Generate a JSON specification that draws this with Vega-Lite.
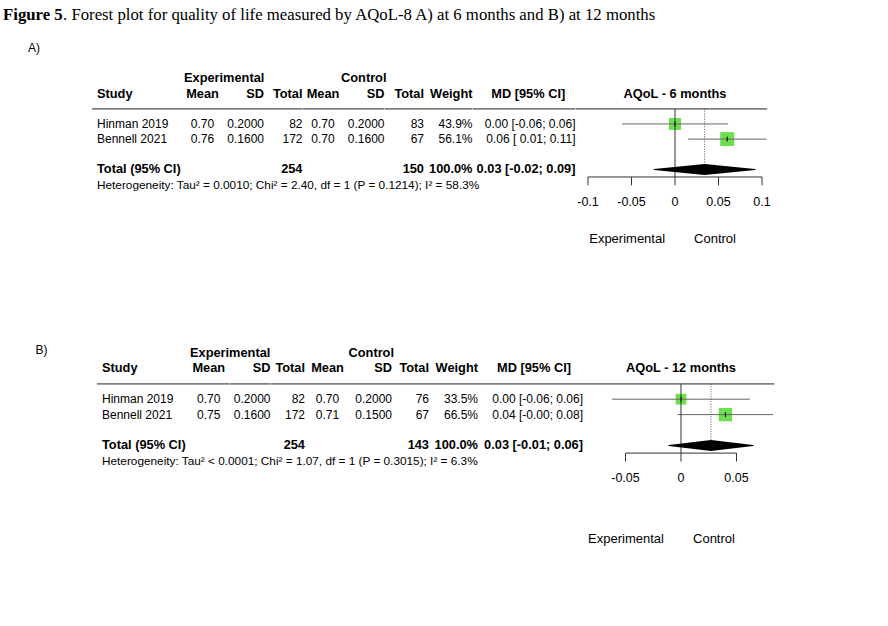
{
"$schema": "https://vega.github.io/schema/vega-lite/v6.json",
"padding": 0,
"spacing": 0,
"resolve": {"scale": {"size": "independent"}},
"config": {
  "view": {"stroke": null},
  "axis": {"disable": true},
  "legend": {"disable": true},
  "text": {"font": "Liberation Sans", "fontSize": 12, "color": "black"},
  "concat": {"spacing": 0}
},
"datasets": {
  "one": [{}],
  "A": [
    {"line": 3, "study": "Hinman 2019", "eMean": 0.70, "eSD": 0.2, "eN": 82, "cMean": 0.70, "cSD": 0.2, "cN": 83, "w": 0.439, "ci": "0.00 [-0.06; 0.06]", "md": 0.0, "lo": -0.061, "hi": 0.061},
    {"line": 4, "study": "Bennell 2021", "eMean": 0.76, "eSD": 0.16, "eN": 172, "cMean": 0.70, "cSD": 0.16, "cN": 67, "w": 0.561, "ci": "0.06 [ 0.01; 0.11]", "md": 0.06, "lo": 0.015, "hi": 0.105},
    {"line": 6, "study": "Total (95% CI)", "eN": 254, "cN": 150, "w": 1.0, "ci": "0.03 [-0.02; 0.09]", "md": 0.034, "lo": -0.024, "hi": 0.092, "het": "Heterogeneity: Tau² = 0.0010; Chi² = 2.40, df = 1 (P = 0.1214); I² = 58.3%"}
  ],
  "B": [
    {"line": 3, "study": "Hinman 2019", "eMean": 0.70, "eSD": 0.2, "eN": 82, "cMean": 0.70, "cSD": 0.2, "cN": 76, "w": 0.335, "ci": "0.00 [-0.06; 0.06]", "md": 0.0, "lo": -0.062, "hi": 0.062},
    {"line": 4, "study": "Bennell 2021", "eMean": 0.75, "eSD": 0.16, "eN": 172, "cMean": 0.71, "cSD": 0.15, "cN": 67, "w": 0.665, "ci": "0.04 [-0.00; 0.08]", "md": 0.04, "lo": -0.003, "hi": 0.083},
    {"line": 6, "study": "Total (95% CI)", "eN": 254, "cN": 143, "w": 1.0, "ci": "0.03 [-0.01; 0.06]", "md": 0.027, "lo": -0.011, "hi": 0.065, "het": "Heterogeneity: Tau² < 0.0001; Chi² = 1.07, df = 1 (P = 0.3015); I² = 6.3%"}
  ],
  "ticksA": [
    {"t": -0.1, "lab": "-0.1"}, {"t": -0.05, "lab": "-0.05"}, {"t": 0, "lab": "0"}, {"t": 0.05, "lab": "0.05"}, {"t": 0.1, "lab": "0.1"}
  ],
  "ticksB": [
    {"t": -0.05, "lab": "-0.05"}, {"t": 0, "lab": "0"}, {"t": 0.05, "lab": "0.05"}
  ]
},
"vconcat": [
  {
    "width": 888, "height": 30,
    "layer": [
      {"data": {"name": "one"}, "mark": {"type": "text", "text": "Figure 5", "font": "Liberation Serif", "fontSize": 16.75, "fontWeight": "bold", "align": "left", "dx": 3}, "encoding": {"x": {"value": 0}}},
      {"data": {"name": "one"}, "mark": {"type": "text", "text": ". Forest plot for quality of life measured by AQoL-8 A) at 6 months and B) at 12 months", "font": "Liberation Serif", "fontSize": 16.75, "align": "left", "dx": 63}, "encoding": {"x": {"value": 0}}}
    ]
  },
  {
    "spacing": 0, "bounds": "flush",
    "hconcat": [
      {"width": 68, "height": 271, "data": {"name": "one"}, "mark": {"type": "text", "text": "A)"}, "encoding": {"y": {"datum": -2, "scale": {"domain": [-3.2013, 14.6865], "reverse": true, "nice": false, "zero": false}}}},
      {"width": 24, "height": 271, "data": {"values": []}, "mark": {"type": "text"}},
      {"width": 90, "height": 271,
       "layer": [
         {"data": {"name": "one"}, "mark": {"type": "rule", "color": "#808080", "strokeWidth": 1.8}, "encoding": {"y": {"datum": 2, "scale": {"domain": [-3.2013, 14.6865], "reverse": true, "nice": false, "zero": false}}}},
         {"data": {"name": "one"}, "mark": {"type": "text", "text": "Study", "fontWeight": "bold", "fontSize": 12.8, "align": "left", "dx": 5}, "encoding": {"x": {"value": 0}, "y": {"datum": 1}}},
         {"data": {"name": "A"}, "transform": [{"filter": "datum.line < 5"}], "mark": {"type": "text", "align": "left", "dx": 5}, "encoding": {"x": {"value": 0}, "y": {"field": "line", "type": "quantitative"}, "text": {"field": "study"}}},
         {"data": {"name": "A"}, "transform": [{"filter": "datum.line == 6"}], "mark": {"type": "text", "align": "left", "dx": 5, "fontWeight": "bold", "fontSize": 12.8}, "encoding": {"x": {"value": 0}, "y": {"field": "line", "type": "quantitative"}, "text": {"field": "study"}}},
         {"data": {"name": "A"}, "transform": [{"filter": "datum.line == 6"}], "mark": {"type": "text", "align": "left", "dx": 5, "fontSize": 11.8}, "encoding": {"x": {"value": 0}, "y": {"datum": 7}, "text": {"field": "het"}}}
       ]},
      {"width": 41, "height": 271,
       "layer": [
         {"data": {"name": "one"}, "mark": {"type": "rule", "color": "#808080", "strokeWidth": 1.8}, "encoding": {"y": {"datum": 2, "scale": {"domain": [-3.2013, 14.6865], "reverse": true, "nice": false, "zero": false}}}},
         {"data": {"name": "one"}, "mark": {"type": "text", "text": "Experimental", "fontWeight": "bold", "fontSize": 12.8, "align": "left", "dx": 2}, "encoding": {"x": {"value": 0}, "y": {"datum": 0}}},
         {"data": {"name": "one"}, "mark": {"type": "text", "text": "Mean", "fontWeight": "bold", "fontSize": 12.8}, "encoding": {"y": {"datum": 1}}},
         {"data": {"name": "A"}, "transform": [{"filter": "datum.line < 5"}], "mark": {"type": "text"}, "encoding": {"y": {"field": "line", "type": "quantitative"}, "text": {"field": "eMean", "type": "quantitative", "format": ".2f"}}}
       ]},
      {"width": 41, "height": 271,
       "layer": [
         {"data": {"name": "one"}, "mark": {"type": "rule", "color": "#808080", "strokeWidth": 1.8}, "encoding": {"y": {"datum": 2, "scale": {"domain": [-3.2013, 14.6865], "reverse": true, "nice": false, "zero": false}}}},
         {"data": {"name": "one"}, "mark": {"type": "text", "text": "SD", "fontWeight": "bold", "fontSize": 12.8, "align": "right"}, "encoding": {"x": {"value": "width"}, "y": {"datum": 1}}},
         {"data": {"name": "A"}, "transform": [{"filter": "datum.line < 5"}], "mark": {"type": "text", "align": "right"}, "encoding": {"x": {"value": "width"}, "y": {"field": "line", "type": "quantitative"}, "text": {"field": "eSD", "type": "quantitative", "format": ".4f"}}}
       ]},
      {"width": 38.5, "height": 271,
       "layer": [
         {"data": {"name": "one"}, "mark": {"type": "rule", "color": "#808080", "strokeWidth": 1.8}, "encoding": {"y": {"datum": 2, "scale": {"domain": [-3.2013, 14.6865], "reverse": true, "nice": false, "zero": false}}}},
         {"data": {"name": "one"}, "mark": {"type": "text", "text": "Total", "fontWeight": "bold", "fontSize": 12.8, "align": "right"}, "encoding": {"x": {"value": "width"}, "y": {"datum": 1}}},
         {"data": {"name": "A"}, "transform": [{"filter": "datum.line < 5"}], "mark": {"type": "text", "align": "right"}, "encoding": {"x": {"value": "width"}, "y": {"field": "line", "type": "quantitative"}, "text": {"field": "eN", "type": "quantitative", "format": "d"}}},
         {"data": {"name": "A"}, "transform": [{"filter": "datum.line == 6"}], "mark": {"type": "text", "align": "right", "fontWeight": "bold", "fontSize": 12.8}, "encoding": {"x": {"value": "width"}, "y": {"field": "line", "type": "quantitative"}, "text": {"field": "eN", "type": "quantitative", "format": "d"}}}
       ]},
      {"width": 40, "height": 271,
       "layer": [
         {"data": {"name": "one"}, "mark": {"type": "rule", "color": "#808080", "strokeWidth": 1.8}, "encoding": {"y": {"datum": 2, "scale": {"domain": [-3.2013, 14.6865], "reverse": true, "nice": false, "zero": false}}}},
         {"data": {"name": "one"}, "mark": {"type": "text", "text": "Mean", "fontWeight": "bold", "fontSize": 12.8}, "encoding": {"y": {"datum": 1}}},
         {"data": {"name": "A"}, "transform": [{"filter": "datum.line < 5"}], "mark": {"type": "text"}, "encoding": {"y": {"field": "line", "type": "quantitative"}, "text": {"field": "cMean", "type": "quantitative", "format": ".2f"}}}
       ]},
      {"width": 41.5, "height": 271,
       "layer": [
         {"data": {"name": "one"}, "mark": {"type": "rule", "color": "#808080", "strokeWidth": 1.8}, "encoding": {"y": {"datum": 2, "scale": {"domain": [-3.2013, 14.6865], "reverse": true, "nice": false, "zero": false}}}},
         {"data": {"name": "one"}, "mark": {"type": "text", "text": "Control", "fontWeight": "bold", "fontSize": 12.8, "align": "right", "dx": 2}, "encoding": {"x": {"value": "width"}, "y": {"datum": 0}}},
         {"data": {"name": "one"}, "mark": {"type": "text", "text": "SD", "fontWeight": "bold", "fontSize": 12.8, "align": "right"}, "encoding": {"x": {"value": "width"}, "y": {"datum": 1}}},
         {"data": {"name": "A"}, "transform": [{"filter": "datum.line < 5"}], "mark": {"type": "text", "align": "right"}, "encoding": {"x": {"value": "width"}, "y": {"field": "line", "type": "quantitative"}, "text": {"field": "cSD", "type": "quantitative", "format": ".4f"}}}
       ]},
      {"width": 39, "height": 271,
       "layer": [
         {"data": {"name": "one"}, "mark": {"type": "rule", "color": "#808080", "strokeWidth": 1.8}, "encoding": {"y": {"datum": 2, "scale": {"domain": [-3.2013, 14.6865], "reverse": true, "nice": false, "zero": false}}}},
         {"data": {"name": "one"}, "mark": {"type": "text", "text": "Total", "fontWeight": "bold", "fontSize": 12.8, "align": "right"}, "encoding": {"x": {"value": "width"}, "y": {"datum": 1}}},
         {"data": {"name": "A"}, "transform": [{"filter": "datum.line < 5"}], "mark": {"type": "text", "align": "right"}, "encoding": {"x": {"value": "width"}, "y": {"field": "line", "type": "quantitative"}, "text": {"field": "cN", "type": "quantitative", "format": "d"}}},
         {"data": {"name": "A"}, "transform": [{"filter": "datum.line == 6"}], "mark": {"type": "text", "align": "right", "fontWeight": "bold", "fontSize": 12.8}, "encoding": {"x": {"value": "width"}, "y": {"field": "line", "type": "quantitative"}, "text": {"field": "cN", "type": "quantitative", "format": "d"}}}
       ]},
      {"width": 48.5, "height": 271,
       "layer": [
         {"data": {"name": "one"}, "mark": {"type": "rule", "color": "#808080", "strokeWidth": 1.8}, "encoding": {"y": {"datum": 2, "scale": {"domain": [-3.2013, 14.6865], "reverse": true, "nice": false, "zero": false}}}},
         {"data": {"name": "one"}, "mark": {"type": "text", "text": "Weight", "fontWeight": "bold", "fontSize": 12.8, "align": "right"}, "encoding": {"x": {"value": "width"}, "y": {"datum": 1}}},
         {"data": {"name": "A"}, "transform": [{"filter": "datum.line < 5"}], "mark": {"type": "text", "align": "right"}, "encoding": {"x": {"value": "width"}, "y": {"field": "line", "type": "quantitative"}, "text": {"field": "w", "type": "quantitative", "format": ".1%"}}},
         {"data": {"name": "A"}, "transform": [{"filter": "datum.line == 6"}], "mark": {"type": "text", "align": "right", "fontWeight": "bold", "fontSize": 12.8}, "encoding": {"x": {"value": "width"}, "y": {"field": "line", "type": "quantitative"}, "text": {"field": "w", "type": "quantitative", "format": ".1%"}}}
       ]},
      {"width": 102.5, "height": 271,
       "layer": [
         {"data": {"name": "one"}, "mark": {"type": "rule", "color": "#808080", "strokeWidth": 1.8}, "encoding": {"y": {"datum": 2, "scale": {"domain": [-3.2013, 14.6865], "reverse": true, "nice": false, "zero": false}}}},
         {"data": {"name": "one"}, "mark": {"type": "text", "text": "MD [95% CI]", "fontWeight": "bold", "fontSize": 12.8, "dx": 4}, "encoding": {"y": {"datum": 1}}},
         {"data": {"name": "A"}, "transform": [{"filter": "datum.line < 5"}], "mark": {"type": "text", "align": "right"}, "encoding": {"x": {"value": "width"}, "y": {"field": "line", "type": "quantitative"}, "text": {"field": "ci"}}},
         {"data": {"name": "A"}, "transform": [{"filter": "datum.line == 6"}], "mark": {"type": "text", "align": "right", "fontWeight": "bold", "fontSize": 12.8}, "encoding": {"x": {"value": "width"}, "y": {"field": "line", "type": "quantitative"}, "text": {"field": "ci"}}}
       ]},
      {"width": 314, "height": 271,
       "layer": [
         {"data": {"name": "one"}, "mark": {"type": "rule", "color": "#808080", "strokeWidth": 1.8}, "encoding": {"x": {"datum": -0.113793, "scale": {"domain": [-0.113793, 0.247126], "nice": false, "zero": false}}, "x2": {"datum": 0.106}, "y": {"datum": 2, "scale": {"domain": [-3.2013, 14.6865], "reverse": true, "nice": false, "zero": false}}}},
         {"data": {"name": "one"}, "mark": {"type": "text", "text": "AQoL - 6 months", "fontWeight": "bold", "fontSize": 12.8}, "encoding": {"x": {"datum": 0}, "y": {"datum": 1}}},
         {"data": {"name": "A"}, "transform": [{"filter": "datum.line < 5"}], "mark": {"type": "square", "filled": true, "color": "#6ce04e", "opacity": 1}, "encoding": {"x": {"field": "md", "type": "quantitative"}, "y": {"field": "line", "type": "quantitative"}, "size": {"field": "w", "type": "quantitative", "scale": {"domain": [0.439, 0.561], "range": [144, 196], "zero": false}, "legend": null}}},
         {"data": {"name": "A"}, "transform": [{"filter": "datum.line < 5"}], "mark": {"type": "rule", "color": "#666666", "strokeWidth": 1}, "encoding": {"x": {"field": "lo", "type": "quantitative"}, "x2": {"field": "hi"}, "y": {"field": "line", "type": "quantitative"}}},
         {"data": {"name": "A"}, "transform": [{"filter": "datum.line < 5"}], "mark": {"type": "point", "shape": "stroke", "angle": 90, "size": 25, "color": "black", "strokeWidth": 1, "opacity": 1}, "encoding": {"x": {"field": "md", "type": "quantitative"}, "y": {"field": "line", "type": "quantitative"}}},
         {"data": {"name": "one"}, "mark": {"type": "rule", "color": "#333333", "strokeWidth": 1}, "encoding": {"x": {"datum": 0}, "y": {"datum": 2}, "y2": {"datum": 6.5}}},
         {"data": {"name": "A"}, "transform": [{"filter": "datum.line == 6"}], "mark": {"type": "rule", "color": "#555555", "strokeWidth": 1, "strokeDash": [1, 1.5]}, "encoding": {"x": {"field": "md", "type": "quantitative"}, "y": {"datum": 2}, "y2": {"datum": 5.65}}},
         {"data": {"name": "A"}, "transform": [{"filter": "datum.line == 6"}, {"fold": ["lo", "md", "hi"], "as": ["vertex", "xv"]}], "mark": {"type": "trail", "color": "black"}, "encoding": {"x": {"field": "xv", "type": "quantitative"}, "y": {"field": "line", "type": "quantitative"}, "size": {"condition": {"test": "datum.vertex === 'md'", "value": 11}, "value": 0}}},
         {"data": {"name": "one"}, "mark": {"type": "rule", "color": "#333333", "strokeWidth": 1}, "encoding": {"x": {"datum": -0.1}, "x2": {"datum": 0.1}, "y": {"datum": 6.5}}},
         {"data": {"name": "ticksA"}, "mark": {"type": "rule", "color": "#333333", "strokeWidth": 1}, "encoding": {"x": {"field": "t", "type": "quantitative"}, "y": {"datum": 6.5}, "y2": {"datum": 7.05}}},
         {"data": {"name": "ticksA"}, "mark": {"type": "text", "fontSize": 12.5}, "encoding": {"x": {"field": "t", "type": "quantitative"}, "y": {"datum": 8.15}, "text": {"field": "lab"}}},
         {"data": {"name": "one"}, "mark": {"type": "text", "text": "Experimental", "fontSize": 13}, "encoding": {"x": {"datum": -0.055}, "y": {"datum": 10.6}}},
         {"data": {"name": "one"}, "mark": {"type": "text", "text": "Control", "fontSize": 13}, "encoding": {"x": {"datum": 0.046}, "y": {"datum": 10.6}}}
       ]}
    ]
  },
  {
    "spacing": 0, "bounds": "flush",
    "hconcat": [
      {"width": 83, "height": 325, "data": {"name": "one"}, "mark": {"type": "text", "text": "B)"}, "encoding": {"y": {"datum": -0.2, "scale": {"domain": [-3.3766, 17.7273], "reverse": true, "nice": false, "zero": false}}}},
      {"width": 14, "height": 325, "data": {"values": []}, "mark": {"type": "text"}},
      {"width": 91, "height": 325,
       "layer": [
         {"data": {"name": "one"}, "mark": {"type": "rule", "color": "#808080", "strokeWidth": 1.8}, "encoding": {"y": {"datum": 2, "scale": {"domain": [-3.3766, 17.7273], "reverse": true, "nice": false, "zero": false}}}},
         {"data": {"name": "one"}, "mark": {"type": "text", "text": "Study", "fontWeight": "bold", "fontSize": 12.8, "align": "left", "dx": 5}, "encoding": {"x": {"value": 0}, "y": {"datum": 1}}},
         {"data": {"name": "B"}, "transform": [{"filter": "datum.line < 5"}], "mark": {"type": "text", "align": "left", "dx": 5}, "encoding": {"x": {"value": 0}, "y": {"field": "line", "type": "quantitative"}, "text": {"field": "study"}}},
         {"data": {"name": "B"}, "transform": [{"filter": "datum.line == 6"}], "mark": {"type": "text", "align": "left", "dx": 5, "fontWeight": "bold", "fontSize": 12.8}, "encoding": {"x": {"value": 0}, "y": {"field": "line", "type": "quantitative"}, "text": {"field": "study"}}},
         {"data": {"name": "B"}, "transform": [{"filter": "datum.line == 6"}], "mark": {"type": "text", "align": "left", "dx": 5, "fontSize": 11.8}, "encoding": {"x": {"value": 0}, "y": {"datum": 7}, "text": {"field": "het"}}}
       ]},
      {"width": 41.5, "height": 325,
       "layer": [
         {"data": {"name": "one"}, "mark": {"type": "rule", "color": "#808080", "strokeWidth": 1.8}, "encoding": {"y": {"datum": 2, "scale": {"domain": [-3.3766, 17.7273], "reverse": true, "nice": false, "zero": false}}}},
         {"data": {"name": "one"}, "mark": {"type": "text", "text": "Experimental", "fontWeight": "bold", "fontSize": 12.8, "align": "left", "dx": 2}, "encoding": {"x": {"value": 0}, "y": {"datum": 0}}},
         {"data": {"name": "one"}, "mark": {"type": "text", "text": "Mean", "fontWeight": "bold", "fontSize": 12.8}, "encoding": {"y": {"datum": 1}}},
         {"data": {"name": "B"}, "transform": [{"filter": "datum.line < 5"}], "mark": {"type": "text"}, "encoding": {"y": {"field": "line", "type": "quantitative"}, "text": {"field": "eMean", "type": "quantitative", "format": ".2f"}}}
       ]},
      {"width": 40.5, "height": 325,
       "layer": [
         {"data": {"name": "one"}, "mark": {"type": "rule", "color": "#808080", "strokeWidth": 1.8}, "encoding": {"y": {"datum": 2, "scale": {"domain": [-3.3766, 17.7273], "reverse": true, "nice": false, "zero": false}}}},
         {"data": {"name": "one"}, "mark": {"type": "text", "text": "SD", "fontWeight": "bold", "fontSize": 12.8, "align": "right"}, "encoding": {"x": {"value": "width"}, "y": {"datum": 1}}},
         {"data": {"name": "B"}, "transform": [{"filter": "datum.line < 5"}], "mark": {"type": "text", "align": "right"}, "encoding": {"x": {"value": "width"}, "y": {"field": "line", "type": "quantitative"}, "text": {"field": "eSD", "type": "quantitative", "format": ".4f"}}}
       ]},
      {"width": 34, "height": 325,
       "layer": [
         {"data": {"name": "one"}, "mark": {"type": "rule", "color": "#808080", "strokeWidth": 1.8}, "encoding": {"y": {"datum": 2, "scale": {"domain": [-3.3766, 17.7273], "reverse": true, "nice": false, "zero": false}}}},
         {"data": {"name": "one"}, "mark": {"type": "text", "text": "Total", "fontWeight": "bold", "fontSize": 12.8, "align": "right"}, "encoding": {"x": {"value": "width"}, "y": {"datum": 1}}},
         {"data": {"name": "B"}, "transform": [{"filter": "datum.line < 5"}], "mark": {"type": "text", "align": "right"}, "encoding": {"x": {"value": "width"}, "y": {"field": "line", "type": "quantitative"}, "text": {"field": "eN", "type": "quantitative", "format": "d"}}},
         {"data": {"name": "B"}, "transform": [{"filter": "datum.line == 6"}], "mark": {"type": "text", "align": "right", "fontWeight": "bold", "fontSize": 12.8}, "encoding": {"x": {"value": "width"}, "y": {"field": "line", "type": "quantitative"}, "text": {"field": "eN", "type": "quantitative", "format": "d"}}}
       ]},
      {"width": 45, "height": 325,
       "layer": [
         {"data": {"name": "one"}, "mark": {"type": "rule", "color": "#808080", "strokeWidth": 1.8}, "encoding": {"y": {"datum": 2, "scale": {"domain": [-3.3766, 17.7273], "reverse": true, "nice": false, "zero": false}}}},
         {"data": {"name": "one"}, "mark": {"type": "text", "text": "Mean", "fontWeight": "bold", "fontSize": 12.8}, "encoding": {"y": {"datum": 1}}},
         {"data": {"name": "B"}, "transform": [{"filter": "datum.line < 5"}], "mark": {"type": "text"}, "encoding": {"y": {"field": "line", "type": "quantitative"}, "text": {"field": "cMean", "type": "quantitative", "format": ".2f"}}}
       ]},
      {"width": 42, "height": 325,
       "layer": [
         {"data": {"name": "one"}, "mark": {"type": "rule", "color": "#808080", "strokeWidth": 1.8}, "encoding": {"y": {"datum": 2, "scale": {"domain": [-3.3766, 17.7273], "reverse": true, "nice": false, "zero": false}}}},
         {"data": {"name": "one"}, "mark": {"type": "text", "text": "Control", "fontWeight": "bold", "fontSize": 12.8, "align": "right", "dx": 2}, "encoding": {"x": {"value": "width"}, "y": {"datum": 0}}},
         {"data": {"name": "one"}, "mark": {"type": "text", "text": "SD", "fontWeight": "bold", "fontSize": 12.8, "align": "right"}, "encoding": {"x": {"value": "width"}, "y": {"datum": 1}}},
         {"data": {"name": "B"}, "transform": [{"filter": "datum.line < 5"}], "mark": {"type": "text", "align": "right"}, "encoding": {"x": {"value": "width"}, "y": {"field": "line", "type": "quantitative"}, "text": {"field": "cSD", "type": "quantitative", "format": ".4f"}}}
       ]},
      {"width": 37, "height": 325,
       "layer": [
         {"data": {"name": "one"}, "mark": {"type": "rule", "color": "#808080", "strokeWidth": 1.8}, "encoding": {"y": {"datum": 2, "scale": {"domain": [-3.3766, 17.7273], "reverse": true, "nice": false, "zero": false}}}},
         {"data": {"name": "one"}, "mark": {"type": "text", "text": "Total", "fontWeight": "bold", "fontSize": 12.8, "align": "right"}, "encoding": {"x": {"value": "width"}, "y": {"datum": 1}}},
         {"data": {"name": "B"}, "transform": [{"filter": "datum.line < 5"}], "mark": {"type": "text", "align": "right"}, "encoding": {"x": {"value": "width"}, "y": {"field": "line", "type": "quantitative"}, "text": {"field": "cN", "type": "quantitative", "format": "d"}}},
         {"data": {"name": "B"}, "transform": [{"filter": "datum.line == 6"}], "mark": {"type": "text", "align": "right", "fontWeight": "bold", "fontSize": 12.8}, "encoding": {"x": {"value": "width"}, "y": {"field": "line", "type": "quantitative"}, "text": {"field": "cN", "type": "quantitative", "format": "d"}}}
       ]},
      {"width": 49, "height": 325,
       "layer": [
         {"data": {"name": "one"}, "mark": {"type": "rule", "color": "#808080", "strokeWidth": 1.8}, "encoding": {"y": {"datum": 2, "scale": {"domain": [-3.3766, 17.7273], "reverse": true, "nice": false, "zero": false}}}},
         {"data": {"name": "one"}, "mark": {"type": "text", "text": "Weight", "fontWeight": "bold", "fontSize": 12.8, "align": "right"}, "encoding": {"x": {"value": "width"}, "y": {"datum": 1}}},
         {"data": {"name": "B"}, "transform": [{"filter": "datum.line < 5"}], "mark": {"type": "text", "align": "right"}, "encoding": {"x": {"value": "width"}, "y": {"field": "line", "type": "quantitative"}, "text": {"field": "w", "type": "quantitative", "format": ".1%"}}},
         {"data": {"name": "B"}, "transform": [{"filter": "datum.line == 6"}], "mark": {"type": "text", "align": "right", "fontWeight": "bold", "fontSize": 12.8}, "encoding": {"x": {"value": "width"}, "y": {"field": "line", "type": "quantitative"}, "text": {"field": "w", "type": "quantitative", "format": ".1%"}}}
       ]},
      {"width": 105, "height": 325,
       "layer": [
         {"data": {"name": "one"}, "mark": {"type": "rule", "color": "#808080", "strokeWidth": 1.8}, "encoding": {"y": {"datum": 2, "scale": {"domain": [-3.3766, 17.7273], "reverse": true, "nice": false, "zero": false}}}},
         {"data": {"name": "one"}, "mark": {"type": "text", "text": "MD [95% CI]", "fontWeight": "bold", "fontSize": 12.8, "dx": 3.5}, "encoding": {"y": {"datum": 1}}},
         {"data": {"name": "B"}, "transform": [{"filter": "datum.line < 5"}], "mark": {"type": "text", "align": "right"}, "encoding": {"x": {"value": "width"}, "y": {"field": "line", "type": "quantitative"}, "text": {"field": "ci"}}},
         {"data": {"name": "B"}, "transform": [{"filter": "datum.line == 6"}], "mark": {"type": "text", "align": "right", "fontWeight": "bold", "fontSize": 12.8}, "encoding": {"x": {"value": "width"}, "y": {"field": "line", "type": "quantitative"}, "text": {"field": "ci"}}}
       ]},
      {"width": 306, "height": 325,
       "layer": [
         {"data": {"name": "one"}, "mark": {"type": "rule", "color": "#808080", "strokeWidth": 1.8}, "encoding": {"x": {"datum": -0.088288, "scale": {"domain": [-0.088288, 0.187387], "nice": false, "zero": false}}, "x2": {"datum": 0.084}, "y": {"datum": 2, "scale": {"domain": [-3.3766, 17.7273], "reverse": true, "nice": false, "zero": false}}}},
         {"data": {"name": "one"}, "mark": {"type": "text", "text": "AQoL - 12 months", "fontWeight": "bold", "fontSize": 12.8}, "encoding": {"x": {"datum": 0}, "y": {"datum": 1}}},
         {"data": {"name": "B"}, "transform": [{"filter": "datum.line < 5"}], "mark": {"type": "square", "filled": true, "color": "#6ce04e", "opacity": 1}, "encoding": {"x": {"field": "md", "type": "quantitative"}, "y": {"field": "line", "type": "quantitative"}, "size": {"field": "w", "type": "quantitative", "scale": {"domain": [0.335, 0.665], "range": [114, 177], "zero": false}, "legend": null}}},
         {"data": {"name": "B"}, "transform": [{"filter": "datum.line < 5"}], "mark": {"type": "rule", "color": "#666666", "strokeWidth": 1}, "encoding": {"x": {"field": "lo", "type": "quantitative"}, "x2": {"field": "hi"}, "y": {"field": "line", "type": "quantitative"}}},
         {"data": {"name": "B"}, "transform": [{"filter": "datum.line < 5"}], "mark": {"type": "point", "shape": "stroke", "angle": 90, "size": 25, "color": "black", "strokeWidth": 1, "opacity": 1}, "encoding": {"x": {"field": "md", "type": "quantitative"}, "y": {"field": "line", "type": "quantitative"}}},
         {"data": {"name": "one"}, "mark": {"type": "rule", "color": "#333333", "strokeWidth": 1}, "encoding": {"x": {"datum": 0}, "y": {"datum": 2}, "y2": {"datum": 6.5}}},
         {"data": {"name": "B"}, "transform": [{"filter": "datum.line == 6"}], "mark": {"type": "rule", "color": "#555555", "strokeWidth": 1, "strokeDash": [1, 1.5]}, "encoding": {"x": {"field": "md", "type": "quantitative"}, "y": {"datum": 2}, "y2": {"datum": 5.65}}},
         {"data": {"name": "B"}, "transform": [{"filter": "datum.line == 6"}, {"fold": ["lo", "md", "hi"], "as": ["vertex", "xv"]}], "mark": {"type": "trail", "color": "black"}, "encoding": {"x": {"field": "xv", "type": "quantitative"}, "y": {"field": "line", "type": "quantitative"}, "size": {"condition": {"test": "datum.vertex === 'md'", "value": 11}, "value": 0}}},
         {"data": {"name": "one"}, "mark": {"type": "rule", "color": "#333333", "strokeWidth": 1}, "encoding": {"x": {"datum": -0.05}, "x2": {"datum": 0.05}, "y": {"datum": 6.5}}},
         {"data": {"name": "ticksB"}, "mark": {"type": "rule", "color": "#333333", "strokeWidth": 1}, "encoding": {"x": {"field": "t", "type": "quantitative"}, "y": {"datum": 6.5}, "y2": {"datum": 7.05}}},
         {"data": {"name": "ticksB"}, "mark": {"type": "text", "fontSize": 12.5}, "encoding": {"x": {"field": "t", "type": "quantitative"}, "y": {"datum": 8.1}, "text": {"field": "lab"}}},
         {"data": {"name": "one"}, "mark": {"type": "text", "text": "Experimental", "fontSize": 13}, "encoding": {"x": {"datum": -0.0495}, "y": {"datum": 12.08}}},
         {"data": {"name": "one"}, "mark": {"type": "text", "text": "Control", "fontSize": 13}, "encoding": {"x": {"datum": 0.0297}, "y": {"datum": 12.08}}}
       ]}
    ]
  }
]
}
